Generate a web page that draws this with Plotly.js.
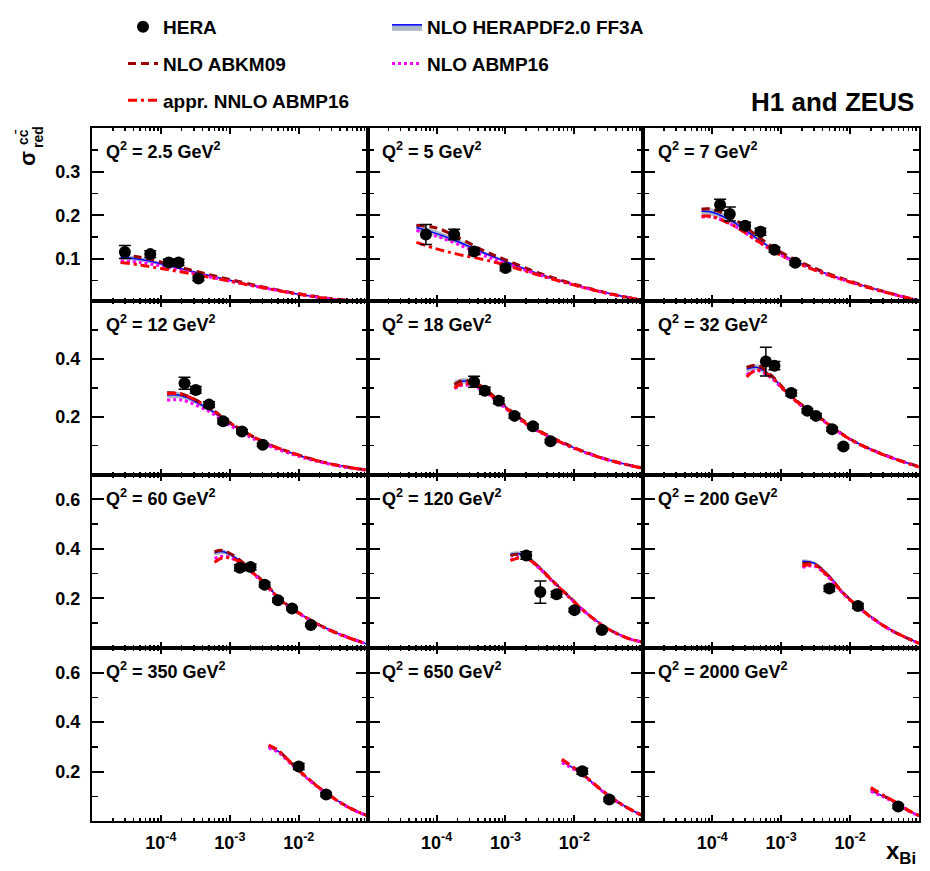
<!DOCTYPE html>
<html><head><meta charset="utf-8">
<script src="https://cdn.plot.ly/plotly-3.0.1.min.js"></script>
<style>html,body{margin:0;padding:0;background:#fff}#chart{width:930px;height:871px}</style>
</head><body><div id="chart"></div>
<script>
// ---------------- DATA ----------------
const q2Labels = ['2.5','5','7','12','18','32','60','120','200','350','650','2000'];

// HERA combined charm data (x_Bj, sigma_red, uncertainty)
const heraX = [
  [3e-5,7e-5,1.3e-4,1.8e-4,3.5e-4],
  [7e-5,1.8e-4,3.5e-4,1e-3],
  [1.3e-4,1.8e-4,3e-4,5e-4,8e-4,1.6e-3],
  [2.2e-4,3.2e-4,5e-4,8e-4,1.5e-3,3e-3],
  [3.5e-4,5e-4,8e-4,1.35e-3,2.5e-3,4.5e-3],
  [6e-4,8e-4,1.4e-3,2.4e-3,3.2e-3,5.5e-3,8e-3],
  [1.4e-3,2e-3,3.2e-3,5e-3,8e-3,1.5e-2],
  [2e-3,3.2e-3,5.5e-3,1e-2,2.5e-2],
  [5e-3,1.3e-2],
  [1e-2,2.5e-2],
  [1.3e-2,3.2e-2],
  [5e-2]
];
const heraY = [
  [0.116,0.111,0.092,0.092,0.055],
  [0.156,0.156,0.117,0.079],
  [0.224,0.203,0.176,0.162,0.121,0.091],
  [0.316,0.293,0.242,0.184,0.149,0.103],
  [0.321,0.290,0.255,0.203,0.167,0.115],
  [0.391,0.377,0.282,0.221,0.203,0.157,0.097],
  [0.323,0.326,0.255,0.192,0.159,0.092],
  [0.373,0.225,0.216,0.152,0.072],
  [0.239,0.169],
  [0.220,0.107],
  [0.201,0.087],
  [0.059]
];
const heraErr = [
  [0.015,0.008,0.007,0.007,0.005],
  [0.023,0.012,0.007,0.006],
  [0.013,0.016,0.008,0.008,0.006,0.005],
  [0.021,0.012,0.010,0.008,0.007,0.006],
  [0.019,0.012,0.010,0.008,0.007,0.006],
  [0.050,0.014,0.010,0.008,0.008,0.007,0.006],
  [0.012,0.012,0.010,0.008,0.007,0.006],
  [0.015,0.045,0.012,0.008,0.006],
  [0.012,0.010],
  [0.012,0.008],
  [0.012,0.008],
  [0.008]
];

// theory predictions, sampled at thX
const thX = [
  [2.6e-5,5e-5,1e-4,2e-4,5e-4,1e-3,3e-3,1e-2,3e-2,1e-1],
  [5.1e-5,1e-4,2e-4,5e-4,1e-3,3e-3,1e-2,3e-2,1e-1],
  [7e-5,1e-4,2e-4,5e-4,1e-3,3e-3,1e-2,3e-2,1e-1],
  [1.23e-4,2e-4,5e-4,1e-3,3e-3,1e-2,3e-2,1e-1],
  [1.81e-4,2.5e-4,4e-4,7e-4,1.2e-3,2e-3,4e-3,1e-2,3e-2,1e-1],
  [3.15e-4,4.5e-4,7e-4,1.2e-3,2e-3,4e-3,1e-2,3e-2,1e-1],
  [6e-4,8e-4,1.2e-3,2e-3,3.5e-3,6e-3,1e-2,2e-2,4e-2,1e-1],
  [1.18e-3,1.5e-3,2e-3,3e-3,5e-3,8e-3,1.5e-2,3e-2,6e-2,1e-1],
  [2.03e-3,3e-3,5e-3,8e-3,1.3e-2,2e-2,4e-2,1e-1],
  [3.66e-3,5e-3,8e-3,1.2e-2,2e-2,3.5e-2,6e-2,1e-1],
  [6.6e-3,1e-2,1.5e-2,2.5e-2,4e-2,7e-2,1e-1],
  [2e-2,3e-2,5e-2,7e-2,1e-1]
];
const herapdf = [
  [0.104,0.099,0.089,0.077,0.062,0.051,0.035,0.019,0.008,0.002],
  [0.172,0.158,0.140,0.113,0.094,0.066,0.041,0.022,0.005],
  [0.209,0.207,0.185,0.141,0.111,0.077,0.048,0.026,0.004],
  [0.275,0.273,0.226,0.176,0.112,0.066,0.036,0.015],
  [0.313,0.324,0.310,0.266,0.218,0.178,0.136,0.092,0.052,0.022],
  [0.365,0.371,0.342,0.286,0.240,0.190,0.123,0.070,0.027],
  [0.383,0.388,0.364,0.315,0.249,0.185,0.141,0.092,0.054,0.014],
  [0.377,0.381,0.371,0.330,0.268,0.213,0.141,0.079,0.038,0.022],
  [0.350,0.342,0.290,0.222,0.169,0.126,0.071,0.018],
  [0.300,0.282,0.229,0.184,0.133,0.085,0.047,0.020],
  [0.242,0.211,0.175,0.123,0.082,0.042,0.020],
  [0.123,0.100,0.068,0.042,0.022]
];
const herapdfUnc = [
  [0.006,0.005,0.004,0.003,0.0025,0.002,0.0015,0.001,0.001,0.001],
  [0.008,0.007,0.006,0.004,0.003,0.002,0.0015,0.001,0.001],
  [0.009,0.008,0.006,0.004,0.003,0.002,0.0015,0.001,0.001],
  [0.012,0.010,0.007,0.005,0.003,0.002,0.0015,0.001],
  [0.012,0.010,0.008,0.006,0.004,0.003,0.002,0.0015,0.001,0.001],
  [0.012,0.010,0.008,0.006,0.004,0.003,0.002,0.0015,0.001],
  [0.010,0.009,0.007,0.005,0.004,0.003,0.002,0.0015,0.001,0.001],
  [0.010,0.009,0.007,0.005,0.004,0.003,0.002,0.0015,0.001,0.001],
  [0.008,0.007,0.006,0.005,0.004,0.003,0.002,0.001],
  [0.006,0.005,0.004,0.004,0.003,0.002,0.0015,0.001],
  [0.005,0.004,0.004,0.003,0.002,0.0015,0.001],
  [0.004,0.003,0.003,0.002,0.001]
];
const abkm09 = [
  [0.110,0.104,0.093,0.080,0.064,0.053,0.036,0.020,0.009,0.002],
  [0.177,0.171,0.150,0.118,0.098,0.068,0.042,0.022,0.005],
  [0.214,0.214,0.193,0.147,0.115,0.079,0.049,0.026,0.004],
  [0.283,0.279,0.232,0.180,0.114,0.067,0.036,0.015],
  [0.312,0.326,0.313,0.268,0.220,0.180,0.137,0.093,0.052,0.022],
  [0.371,0.378,0.346,0.288,0.241,0.190,0.123,0.070,0.027],
  [0.388,0.393,0.368,0.317,0.250,0.185,0.141,0.092,0.054,0.014],
  [0.372,0.378,0.369,0.328,0.266,0.212,0.140,0.078,0.038,0.022],
  [0.340,0.338,0.287,0.220,0.167,0.125,0.070,0.018],
  [0.305,0.285,0.231,0.185,0.134,0.086,0.048,0.021],
  [0.246,0.213,0.176,0.124,0.082,0.042,0.020],
  [0.130,0.103,0.069,0.042,0.022]
];
const abmp16 = [
  [0.095,0.092,0.084,0.073,0.059,0.049,0.034,0.019,0.008,0.002],
  [0.165,0.152,0.134,0.107,0.090,0.064,0.040,0.021,0.005],
  [0.196,0.196,0.177,0.136,0.108,0.075,0.047,0.025,0.004],
  [0.257,0.258,0.218,0.170,0.108,0.063,0.034,0.014],
  [0.298,0.310,0.300,0.260,0.213,0.174,0.133,0.090,0.051,0.021],
  [0.345,0.360,0.336,0.282,0.236,0.187,0.121,0.069,0.026],
  [0.360,0.370,0.355,0.308,0.245,0.181,0.139,0.091,0.053,0.014],
  [0.355,0.365,0.362,0.324,0.263,0.209,0.139,0.078,0.038,0.022],
  [0.325,0.330,0.281,0.217,0.165,0.123,0.069,0.018],
  [0.295,0.278,0.226,0.182,0.131,0.084,0.046,0.020],
  [0.236,0.207,0.173,0.122,0.081,0.041,0.020],
  [0.120,0.098,0.067,0.041,0.021]
];
const nnloAbmp16 = [
  [0.092,0.086,0.078,0.070,0.058,0.049,0.034,0.019,0.008,0.002],
  [0.138,0.123,0.111,0.098,0.086,0.063,0.040,0.021,0.005],
  [0.198,0.197,0.177,0.137,0.108,0.075,0.047,0.025,0.004],
  [0.280,0.278,0.231,0.179,0.114,0.067,0.036,0.015],
  [0.300,0.315,0.305,0.263,0.216,0.176,0.135,0.091,0.051,0.021],
  [0.338,0.362,0.340,0.284,0.238,0.188,0.122,0.069,0.026],
  [0.345,0.364,0.356,0.311,0.247,0.183,0.140,0.091,0.053,0.014],
  [0.352,0.362,0.362,0.326,0.265,0.210,0.140,0.078,0.038,0.022],
  [0.330,0.334,0.284,0.219,0.166,0.124,0.070,0.018],
  [0.307,0.286,0.231,0.185,0.133,0.085,0.047,0.021],
  [0.250,0.214,0.176,0.124,0.082,0.042,0.020],
  [0.135,0.105,0.070,0.043,0.022]
];

// axis tick definitions
const yRanges = [[0.003,0.4],[0,0.6],[0,0.7],[0,0.7]];
const yMajor = [[0.1,0.2,0.3],[0.2,0.4],[0.2,0.4,0.6],[0.2,0.4,0.6]];
const yMajorText = [['0.1','0.2','0.3'],['0.2','0.4'],['0.2','0.4','0.6'],['0.2','0.4','0.6']];
const yMinor = [[0.05,0.15,0.25,0.35],[0.1,0.3,0.5],[0.1,0.3,0.5],[0.1,0.3,0.5]];
const xMajor = [1e-5,1e-4,1e-3,1e-2,1e-1];
const xMajorText = ['','10<sup>-4</sup>','10<sup>-3</sup>','10<sup>-2</sup>',''];
const xMinor = [];
for (let d = -5; d <= -2; d++) for (let k = 2; k <= 9; k++) xMinor.push(k * Math.pow(10, d));

// ---------------- BUILD ----------------
const FONT = 'Liberation Sans, Arial, Helvetica, sans-serif';
const BAND = '#aab8c7';
const tickFont = {family: FONT, size: 18, weight: 'bold', color: '#000'};

const L = 92, R = 919, T = 128, B = 821;
const pxX = p => (p - L) / (R - L);
const pxY = p => (B - p) / (B - T);

const traces = [];
const legendFont = {family: FONT, size: 19, weight: 'bold', color: '#000'};
const layout = {
  width: 930, height: 871,
  margin: {l: L, r: 930 - R, t: T, b: 871 - B, autoexpand: false},
  paper_bgcolor: '#fff', plot_bgcolor: 'rgba(0,0,0,0)',
  font: {family: FONT, color: '#000'},
  showlegend: true,
  hovermode: false,
  annotations: [],
  legend: {x: pxX(123), y: pxY(8), xanchor: 'left', yanchor: 'top',
           bgcolor: 'rgba(0,0,0,0)', font: legendFont, traceorder: 'grouped', tracegroupgap: 9},
  legend2: {x: pxX(387), y: pxY(8), xanchor: 'left', yanchor: 'top',
           bgcolor: 'rgba(0,0,0,0)', font: legendFont, traceorder: 'grouped', tracegroupgap: 9}
};

for (let i = 0; i < 12; i++) {
  const row = Math.floor(i / 3), col = i % 3, n = i + 1;
  const xa = n === 1 ? 'x' : 'x' + n, ya = n === 1 ? 'y' : 'y' + n;
  const xkey = n === 1 ? 'xaxis' : 'xaxis' + n, ykey = n === 1 ? 'yaxis' : 'yaxis' + n;
  layout[xkey] = {
    type: 'log', range: [-5, -1], domain: [col / 3, (col + 1) / 3], anchor: ya,
    showline: true, linewidth: 2, linecolor: '#000', mirror: 'ticks',
    ticks: 'inside', ticklen: 6, tickwidth: 2, tickcolor: '#000',
    tickmode: 'array', tickvals: xMajor, ticktext: xMajorText, tickangle: 0,
    showticklabels: row === 3, tickfont: tickFont, ticklabelstandoff: 4,
    minor: {tickmode: 'array', tickvals: xMinor, ticks: 'inside', ticklen: 3, tickwidth: 1.5, tickcolor: '#000'},
    showgrid: false, zeroline: false, fixedrange: true
  };
  layout[ykey] = {
    range: yRanges[row], domain: [(3 - row) / 4, (4 - row) / 4], anchor: xa,
    showline: true, linewidth: 2, linecolor: '#000', mirror: 'ticks',
    ticks: 'inside', ticklen: 12, tickwidth: 2, tickcolor: '#000',
    tickmode: 'array', tickvals: yMajor[row], ticktext: yMajorText[row],
    showticklabels: col === 0, tickfont: tickFont, ticklabelstandoff: 6,
    minor: {tickmode: 'array', tickvals: yMinor[row], ticks: 'inside', ticklen: 6, tickwidth: 1.5, tickcolor: '#000'},
    showgrid: false, zeroline: false, fixedrange: true
  };

  const xs = thX[i];
  const lo = herapdf[i].map((v, j) => v - herapdfUnc[i][j]);
  const hi = herapdf[i].map((v, j) => v + herapdfUnc[i][j]);
  const common = {xaxis: xa, yaxis: ya, hoverinfo: 'skip'};
  traces.push(Object.assign({x: xs, y: lo, mode: 'lines', line: {width: 0, color: BAND, shape: 'spline'}, showlegend: false}, common));
  traces.push(Object.assign({x: xs, y: herapdf[i], mode: 'lines', fill: 'tonexty', fillcolor: BAND,
    line: {color: '#0000ff', width: 1.5, shape: 'spline'}, name: 'NLO HERAPDF2.0 FF3A',
    legend: 'legend2', legendgroup: 'hp', legendrank: 1, showlegend: i === 0}, common));
  traces.push(Object.assign({x: xs, y: hi, mode: 'lines', fill: 'tonexty', fillcolor: BAND,
    line: {width: 0, color: BAND, shape: 'spline'}, showlegend: false}, common));
  traces.push(Object.assign({x: xs, y: abkm09[i], mode: 'lines',
    line: {color: '#990000', width: 3, dash: '8px,5px', shape: 'spline'}, name: 'NLO ABKM09',
    legend: 'legend', legendgroup: 'abkm', legendrank: 2, showlegend: i === 0}, common));
  traces.push(Object.assign({x: xs, y: abmp16[i], mode: 'lines',
    line: {color: '#ff00ff', width: 3, dash: '3px,3px', shape: 'spline'}, name: 'NLO ABMP16',
    legend: 'legend2', legendgroup: 'abmp', legendrank: 2, showlegend: i === 0}, common));
  traces.push(Object.assign({x: xs, y: nnloAbmp16[i], mode: 'lines',
    line: {color: '#ff0000', width: 3, dash: '9px,4px,3px,4px', shape: 'spline'}, name: 'appr. NNLO ABMP16',
    legend: 'legend', legendgroup: 'nnlo', legendrank: 3, showlegend: i === 0}, common));
  traces.push(Object.assign({x: heraX[i], y: heraY[i], mode: 'markers',
    marker: {size: 12, color: '#000'},
    error_y: {type: 'data', array: heraErr[i], visible: true, color: '#000', thickness: 1.5, width: 6},
    name: 'HERA', legend: 'legend', legendgroup: 'hera', legendrank: 1, showlegend: i === 0}, common));

  layout.annotations.push({
    xref: xa + ' domain', yref: ya + ' domain', x: 0.045, y: 0.87, xanchor: 'left', yanchor: 'middle',
    text: 'Q<sup>2</sup> = ' + q2Labels[i] + ' GeV<sup>2</sup>', showarrow: false,
    font: {family: FONT, size: 18, weight: 'bold', color: '#000'}
  });
}

// global texts
layout.annotations.push({xref: 'paper', yref: 'paper', x: pxX(916), y: pxY(102), xanchor: 'right', yanchor: 'middle',
  text: 'H1 and ZEUS', showarrow: false, font: {family: FONT, size: 26, weight: 'bold', color: '#000'}});
layout.annotations.push({xref: 'paper', yref: 'paper', x: pxX(918), y: pxY(852), xanchor: 'right', yanchor: 'middle',
  text: 'x<sub>Bi</sub>', showarrow: false, font: {family: FONT, size: 24, weight: 'bold', color: '#000'}});
layout.annotations.push({xref: 'paper', yref: 'paper', x: pxX(27), y: pxY(159), xanchor: 'center', yanchor: 'middle',
  text: 'σ', textangle: -90, showarrow: false, font: {family: FONT, size: 22, weight: 'bold', color: '#000'}});
layout.annotations.push({xref: 'paper', yref: 'paper', x: pxX(38), y: pxY(137), xanchor: 'center', yanchor: 'middle',
  text: 'red', textangle: -90, showarrow: false, font: {family: FONT, size: 14, weight: 'bold', color: '#000'}});
layout.annotations.push({xref: 'paper', yref: 'paper', x: pxX(22), y: pxY(137), xanchor: 'center', yanchor: 'middle',
  text: 'cc\u0304', textangle: -90, showarrow: false, font: {family: FONT, size: 14, weight: 'bold', color: '#000'}});

Plotly.newPlot('chart', traces, layout, {displayModeBar: false, staticPlot: true});
</script></body></html>
